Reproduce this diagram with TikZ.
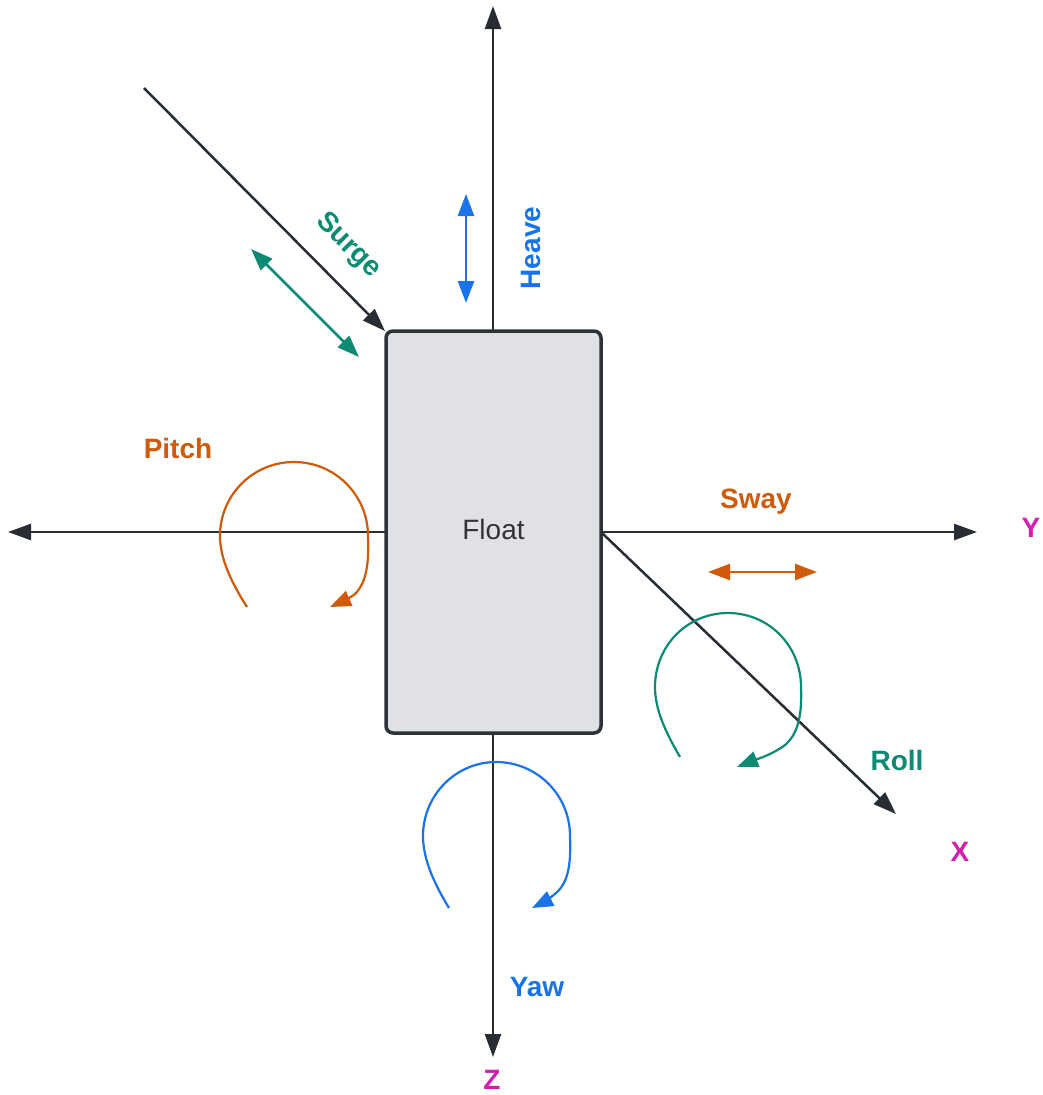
\documentclass[tikz,border=0pt]{standalone}
\usepackage{fontspec}
\setmainfont{Liberation Sans}
\usetikzlibrary{arrows.meta}
\definecolor{axisc}{HTML}{282C33}
\definecolor{boxfill}{HTML}{DFE1E6}
\definecolor{boxline}{HTML}{2E3238}
\definecolor{textgray}{HTML}{333333}
\definecolor{orangec}{HTML}{CF5A0A}
\definecolor{greenc}{HTML}{0C8A74}
\definecolor{bluec}{HTML}{1A73E8}
\definecolor{magc}{HTML}{D21FB0}
\tikzset{
  axisline/.style={draw=axisc, line width=2.5, -{Triangle[length=23,width=16]}},
  dbl/.style={line width=2.5, {Triangle[length=22,width=16]}-{Triangle[length=22,width=16]}},
  rot/.style={line width=2.2, -{Triangle[length=21,width=16]}},
  lbl/.style={font=\fontsize{28}{32}\selectfont\bfseries, inner sep=0},
  axlbl/.style={lbl, text=magc},
}
\begin{document}
\begin{tikzpicture}[x=1pt,y=-1pt]
\useasboundingbox (0,0) rectangle (1042,1095);
\fill[white] (0,0) rectangle (1042,1095);

% coordinates
\coordinate (ztop) at (493,6);
\coordinate (zbot) at (493,1057);
\coordinate (yleft) at (8,532);
\coordinate (yright) at (977,532);
\coordinate (sstart) at (144,88);
\coordinate (xend) at (896,814);
\coordinate (h1) at (466,194);
\coordinate (h2) at (466,303);
\coordinate (s1) at (251,249);
\coordinate (s2) at (359,357);
\coordinate (w1) at (708,572);
\coordinate (w2) at (817,572);

% axes
\draw[axisline] (493,331) -- (ztop);
\draw[axisline] (493,733) -- (zbot);
\draw[axisline] (386,532) -- (yleft);
\draw[axisline] (601,532) -- (yright);
\draw[axisline] (sstart) -- (385,331);
\draw[axisline] (602,533) -- (xend);

% float box
\node[draw=boxline, fill=boxfill, rounded corners=7, line width=3.5,
      minimum width=215, minimum height=402, inner sep=0,
      font=\fontsize{28}{32}\selectfont, text=textgray] (float) at (493.5,532) {\raisebox{5pt}{Float}};

% translational arrows
\draw[bluec, dbl] (h1) -- (h2);
\draw[greenc, dbl] (s1) -- (s2);
\draw[orangec, dbl] (w1) -- (w2);

% rotational arrows
\draw[orangec, rot] (247,607) .. controls (233,585) and (220,560) .. (220,536)
  .. controls (220,495) and (253,462) .. (294,462)
  .. controls (335,462) and (368,495) .. (368,536)
  .. controls (369,562) and (367,582) .. (355,594)
  .. controls (347,600) and (339,603) .. (330,607);
\draw[greenc, rot] (680,757) .. controls (666,733) and (655,710) .. (655,687)
  .. controls (655,646) and (687,613) .. (728,613)
  .. controls (769,613) and (801,646) .. (801,687)
  .. controls (802,713) and (799,733) .. (785,745)
  .. controls (772,755) and (752,761) .. (737,767);
\draw[bluec, rot] (449,908) .. controls (435,885) and (423,860) .. (423,836)
  .. controls (423,795) and (456,762) .. (496,762)
  .. controls (537,762) and (570,795) .. (570,836)
  .. controls (571,862) and (569,882) .. (556,893)
  .. controls (548,900) and (540,904) .. (532,908);

% labels
\node[lbl, text=bluec, rotate=90] (heave) at (531,248) {Heave};
\node[lbl, text=greenc, rotate=-45] (surge) at (348,246) {Surge};
\node[lbl, text=orangec] (pitch) at (178,448) {Pitch};
\node[lbl, text=orangec] (sway) at (756,502) {Sway};
\node[lbl, text=greenc] (roll) at (897,760) {Roll};
\node[lbl, text=bluec] (yaw) at (537,987) {Yaw};
\node[axlbl] (ylab) at (1031,528) {Y};
\node[axlbl] (xlab) at (960,852) {X};
\node[axlbl] (zlab) at (492,1080) {Z};
\end{tikzpicture}
\end{document}
